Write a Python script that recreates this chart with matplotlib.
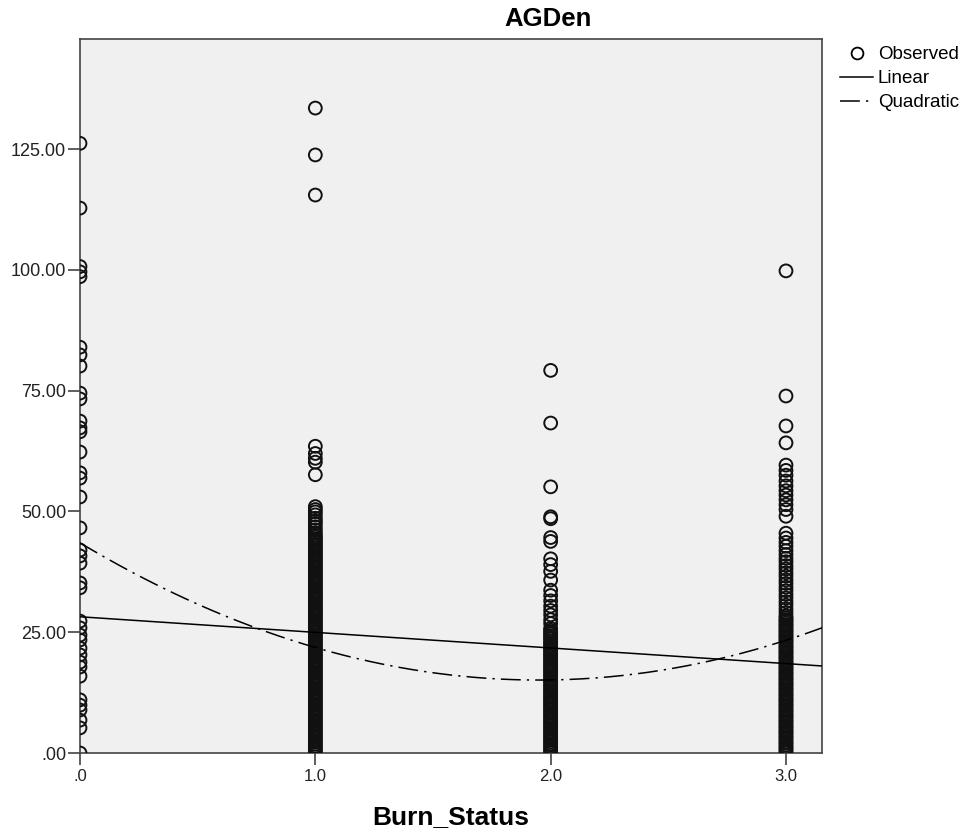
import matplotlib
matplotlib.use("Agg")
import matplotlib.pyplot as plt
from matplotlib.lines import Line2D
import numpy as np

# ---- data ----
burn_status = [0.0, 1.0, 2.0, 3.0]
x_tick_labels = [".0", "1.0", "2.0", "3.0"]
y_ticks = [0, 25, 50, 75, 100, 125]
y_tick_labels = [".00", "25.00", "50.00", "75.00", "100.00", "125.00"]

agden_bs0 = [126.2, 112.8, 100.7, 99.6, 98.6, 84.0, 82.4, 80.1, 74.5, 73.3,
             68.7, 67.3, 66.5, 62.3, 58.0, 56.9, 53.0, 46.6, 42.0, 40.8,
             39.3, 35.2, 34.2, 27.3, 25.9, 24.4, 23.4, 21.7, 20.3, 18.8,
             17.8, 15.9, 11.0, 9.9, 8.9, 6.8, 5.2, 0.0]

agden_bs1 = [133.5, 123.8, 115.5, 63.5, 62.0, 61.0, 60.2, 57.6,
             51.0, 50.4, 49.9, 49.3, 48.6, 48.0, 47.5, 46.8, 46.2, 45.6,
             45.1, 44.7, 44.3, 44.0, 43.6, 43.2, 42.9, 42.5, 42.1, 41.8,
             41.4, 41.0, 40.7, 40.3, 39.9, 39.6, 39.2, 38.8, 38.5, 38.1,
             37.7, 37.4, 37.0, 36.6, 36.3, 35.9, 35.5, 35.2, 34.8, 34.4,
             34.1, 33.7, 33.3, 33.0, 32.6, 32.2, 31.9, 31.5, 31.1, 30.8,
             30.4, 30.0, 29.7, 29.3, 28.9, 28.6, 28.2, 27.8, 27.5, 27.1,
             26.7, 26.4, 26.0, 25.6, 25.3, 24.9, 24.5, 24.2, 23.8, 23.4,
             23.1, 22.7, 22.3, 22.0, 21.6, 21.2, 20.9, 20.5, 20.1, 19.8,
             19.4, 19.0, 18.7, 18.3, 17.9, 17.6, 17.2, 16.8, 16.5, 16.1,
             15.7, 15.4, 15.0, 14.6, 14.3, 13.9, 13.5, 13.2, 12.8, 12.4,
             12.1, 11.7, 11.3, 11.0, 10.6, 10.2, 9.9, 9.5, 9.1, 8.8, 8.4,
             8.0, 7.7, 7.3, 6.9, 6.6, 6.2, 5.8, 5.5, 5.1, 4.7, 4.4, 4.0,
             3.6, 3.3, 2.9, 2.5, 2.2, 1.8, 1.4, 1.1, 0.7, 0.3, 0.0]

agden_bs2 = [79.2, 68.3, 55.1, 48.9, 48.5, 44.6, 43.8, 40.2, 39.0, 37.6,
             35.8, 33.7, 32.6, 31.5, 30.4, 29.5, 28.6, 27.6, 26.8,
             25.8, 25.4, 25.0, 24.7, 24.3, 23.9, 23.6, 23.2, 22.8, 22.5,
             22.1, 21.7, 21.4, 21.0, 20.6, 20.3, 19.9, 19.5, 19.2, 18.8,
             18.4, 18.1, 17.7, 17.3, 17.0, 16.6, 16.2, 15.9, 15.5, 15.1,
             14.8, 14.4, 14.0, 13.7, 13.3, 12.9, 12.6, 12.2, 11.8, 11.5,
             11.1, 10.7, 10.4, 10.0, 9.6, 9.3, 8.9, 8.5, 8.2, 7.8, 7.4,
             7.1, 6.7, 6.3, 6.0, 5.6, 5.2, 4.9, 4.5, 4.1, 3.8, 3.4, 3.0,
             2.7, 2.3, 1.9, 1.6, 1.2, 0.8, 0.5, 0.1]

agden_bs3 = [99.8, 73.9, 67.7, 64.2, 59.6, 58.5, 57.5, 56.3, 55.3, 54.3,
             53.4, 52.4, 51.4, 50.4, 49.0, 45.5, 44.5, 43.6, 42.8, 41.9,
             41.1, 40.3, 39.6, 38.8, 38.1, 37.3, 36.6, 35.8, 35.1, 34.3,
             33.6, 32.8, 32.1, 31.3, 30.6, 29.8, 29.1, 28.4,
             28.0, 27.6, 27.3, 26.9, 26.5, 26.2, 25.8, 25.4, 25.1, 24.7,
             24.3, 24.0, 23.6, 23.2, 22.9, 22.5, 22.1, 21.8, 21.4, 21.0,
             20.7, 20.3, 19.9, 19.6, 19.2, 18.8, 18.5, 18.1, 17.7, 17.4,
             17.0, 16.6, 16.3, 15.9, 15.5, 15.2, 14.8, 14.4, 14.1, 13.7,
             13.3, 13.0, 12.6, 12.2, 11.9, 11.5, 11.1, 10.8, 10.4, 10.0,
             9.7, 9.3, 8.9, 8.6, 8.2, 7.8, 7.5, 7.1, 6.7, 6.4, 6.0, 5.6,
             5.3, 4.9, 4.5, 4.2, 3.8, 3.4, 3.1, 2.7, 2.3, 2.0, 1.6, 1.2,
             0.9, 0.5, 0.1]

linear_coef = [28.2, -3.23]            # intercept, slope
quadratic_coef = [43.5, -29.13, 7.47]  # b0, b1, b2

# ---- figure ----
W, H = 967, 839
fig = plt.figure(figsize=(W / 100, H / 100), dpi=100)
fig.patch.set_facecolor("white")
plt.rcParams["font.family"] = ["Liberation Sans", "DejaVu Sans"]

ax = fig.add_axes([80 / W, 1 - 753 / H, (822 - 80) / W, (753 - 39) / H])
ax.set_facecolor("#F0F0F0")

groups = [agden_bs0, agden_bs1, agden_bs2, agden_bs3]
for xv, vals in zip(burn_status, groups):
    ax.scatter([xv] * len(vals), vals, s=85, facecolors="none",
               edgecolors="#111111", linewidths=1.4, zorder=3)

xs = np.linspace(0, 3.2, 400)
lin = linear_coef[0] + linear_coef[1] * xs
quad = quadratic_coef[0] + quadratic_coef[1] * xs + quadratic_coef[2] * xs ** 2
dashdot = (0, (13, 4, 1.5, 4))
ax.plot(xs, lin, color="black", lw=1.1, zorder=4)
ax.plot(xs, quad, color="black", lw=1.1, linestyle=dashdot, zorder=4)

ax.set_xlim(0, 3.153)
ax.set_ylim(0, 147.8)
ax.set_xticks(burn_status)
ax.set_xticklabels(x_tick_labels)
ax.set_yticks(y_ticks)
ax.set_yticklabels(y_tick_labels)
ax.tick_params(axis="both", direction="out", length=8.5, width=1.1,
               color="#333333", pad=1.5, labelcolor="#222222")
ax.tick_params(axis="y", labelsize=13)
ax.tick_params(axis="x", labelsize=12, pad=3)
for sp in ax.spines.values():
    sp.set_color("#444444")
    sp.set_linewidth(1.2)

ax.set_xlabel("Burn_Status", fontsize=19, fontweight="bold")
ax.xaxis.set_label_coords(0.5, -(805 - 753) / (753 - 39))

fig.text(548 / W, 1 - 19 / H, "AGDen", ha="center", va="center",
         fontsize=18.5, fontweight="bold")

handles = [
    Line2D([], [], marker="o", linestyle="none", markerfacecolor="none",
           markeredgecolor="black", markersize=8.5, markeredgewidth=1.3),
    Line2D([], [], color="black", lw=1.1),
    Line2D([], [], color="black", lw=1.1, linestyle=dashdot),
]
fig.legend(handles, ["Observed", "Linear", "Quadratic"],
           loc="upper left", bbox_to_anchor=(840 / W, 1 - 46 / H),
           frameon=False, fontsize=13.5, handlelength=1.76,
           handletextpad=0.25, labelspacing=0.37, borderaxespad=0,
           borderpad=0)

fig.savefig("out.png", dpi=100)
